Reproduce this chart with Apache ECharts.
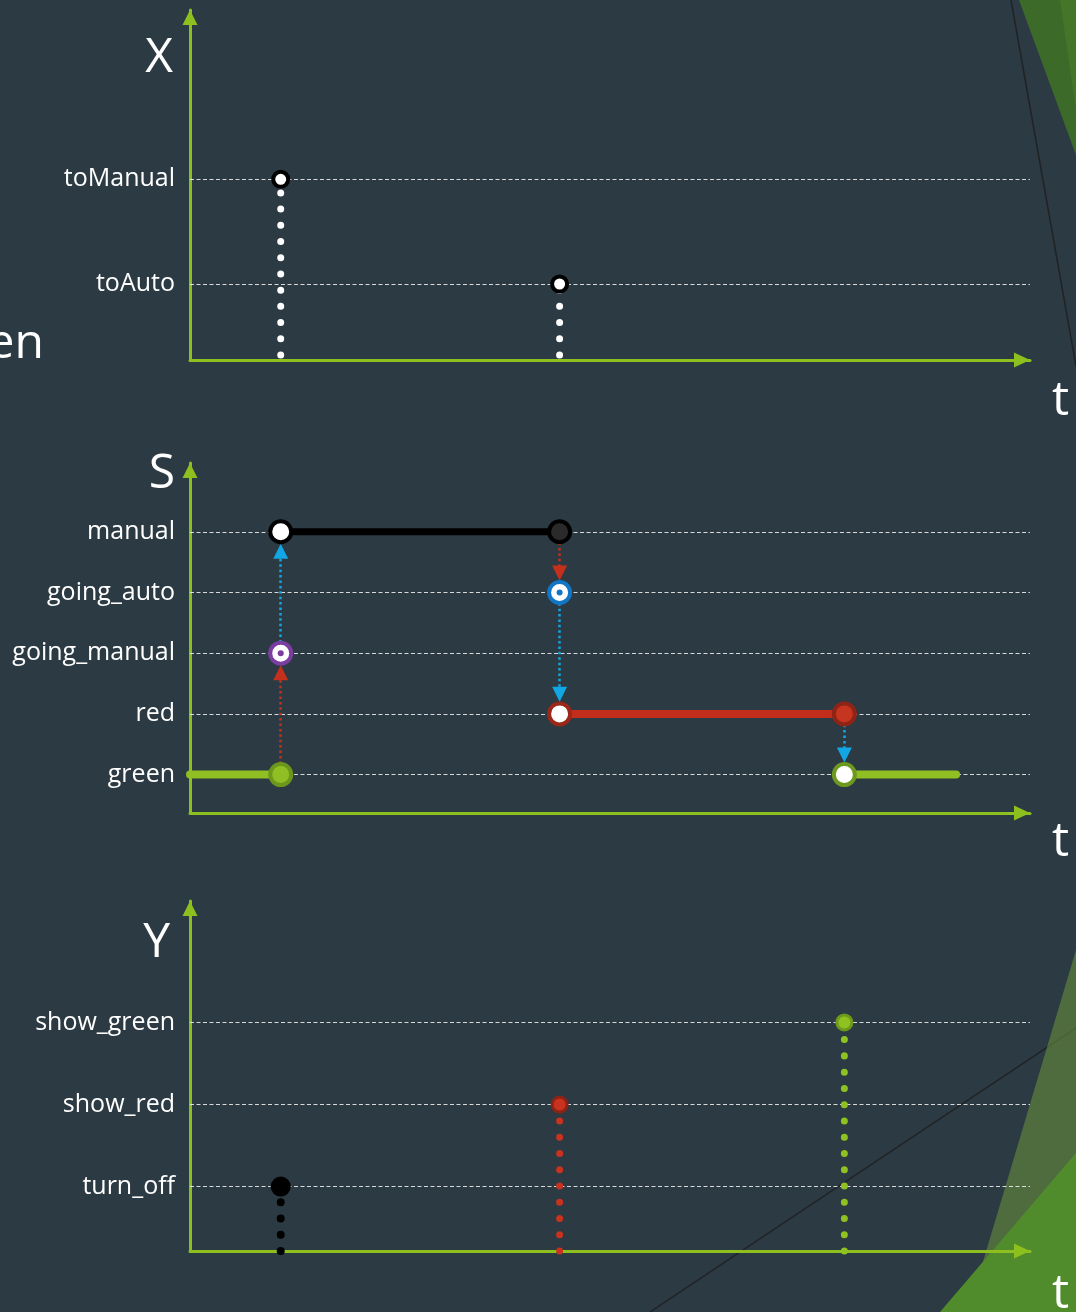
<!DOCTYPE html>
<html>
<head>
<meta charset="utf-8">
<title>X / S / Y timing</title>
<script src="https://cdn.jsdelivr.net/npm/echarts@6.0.0/dist/echarts.min.js"></script>
<style>
  html, body { margin: 0; padding: 0; background: #2c3a43; }
  #chart { width: 1076px; height: 1312px; }
</style>
</head>
<body>
<div id="chart"></div>
<script>
  // event times on the t axis (axis runs 0..100)
  const tEvents = [10.8, 44.0, 77.9]
  const tEnd = 91.2

  // X: commands
  const xLevels = ['toAuto', 'toManual']
  const xEvents = [[tEvents[0], 'toManual'], [tEvents[1], 'toAuto']]

  // S: states
  const sLevels = ['green', 'red', 'going_manual', 'going_auto', 'manual']
  const sSegments = [
    ['green', 0, tEvents[0]],
    ['manual', tEvents[0], tEvents[1]],
    ['red', tEvents[1], tEvents[2]],
    ['green', tEvents[2], tEnd]
  ]
  // [time, from, to, kind]
  const sTransitions = [
    [tEvents[0], 'green', 'going_manual', 'cmd'],
    [tEvents[0], 'going_manual', 'manual', 'auto'],
    [tEvents[1], 'manual', 'going_auto', 'cmd'],
    [tEvents[1], 'going_auto', 'red', 'auto'],
    [tEvents[2], 'red', 'green', 'auto']
  ]
  // [time, state, marker]
  const sPoints = [
    [tEvents[0], 'green', 'greenFill'],
    [tEvents[0], 'going_manual', 'purpleRing'],
    [tEvents[0], 'manual', 'blackOpen'],
    [tEvents[1], 'manual', 'blackFill'],
    [tEvents[1], 'going_auto', 'blueRing'],
    [tEvents[1], 'red', 'redOpen'],
    [tEvents[2], 'red', 'redFill'],
    [tEvents[2], 'green', 'greenOpen']
  ]

  // Y: outputs
  const yLevels = ['turn_off', 'show_red', 'show_green']
  const yEvents = [[tEvents[0], 'turn_off'], [tEvents[1], 'show_red'], [tEvents[2], 'show_green']]

  const LIME = '#8dc01f'
  const FONT = 'Open Sans'

  const stateColors = { green: '#8fbf22', manual: '#000000', red: '#c22e1b' }
  const stateWidths = { green: 8, manual: 7, red: 8 }
  const transColors = { cmd: '#c4301c', auto: '#12a6e4' }
  const markerStyles = {
    greenFill: { fill: '#8fbf22', border: '#6b981c' },
    purpleRing: { fill: '#ffffff', border: '#7b3d9f', dot: '#7b3d9f' },
    blackOpen: { fill: '#ffffff', border: '#000000' },
    blackFill: { fill: '#2a2a2a', border: '#000000' },
    blueRing: { fill: '#ffffff', border: '#1176c6', dot: '#1176c6' },
    redOpen: { fill: '#ffffff', border: '#9a2718' },
    redFill: { fill: '#c6351f', border: '#8f2416' },
    greenOpen: { fill: '#ffffff', border: '#6d9a1e' }
  }
  const yOutStyles = {
    turn_off: { fill: '#000000', border: '#000000', size: 20, bw: 0, drop: '#000000', dot: 8 },
    show_red: { fill: '#c8321e', border: '#8e2215', size: 15, bw: 3, drop: '#c8321e', dot: 7 },
    show_green: { fill: '#8fc122', border: '#6e9a1c', size: 15, bw: 3, drop: '#8fc122', dot: 7 }
  }

  const panels = [
    { name: 'X', levels: xLevels, top: 10, min: 0.274, max: 3.617, nameGap: -48, namePad: 17, tLine: 82, dotOffset: 11.2 },
    { name: 'S', levels: sLevels, top: 463, min: 0.367, max: 6.133, nameGap: -11, namePad: 15, tLine: 58, dotOffset: 0 },
    { name: 'Y', levels: yLevels, top: 901, min: 0.215, max: 4.48, nameGap: -42, namePad: 20, tLine: 86, dotOffset: 0 }
  ]

  function lv(levels, name) {
    return levels.indexOf(name) + 1
  }

  const chart = echarts.init(document.getElementById('chart'))

  const grid = panels.map(p => ({
    left: 190, width: 840, top: p.top, height: 350, outerBoundsMode: 'none'
  }))

  const xAxis = panels.map((p, i) => ({
    type: 'value', gridIndex: i, min: 0, max: 100,
    name: 't', nameLocation: 'end', nameGap: 22,
    nameTextStyle: { color: '#fff', fontSize: 48, fontFamily: FONT, align: 'left', verticalAlign: 'top', lineHeight: p.tLine },
    axisLine: { show: true, symbol: ['none', 'triangle'], symbolSize: [15, 16], symbolOffset: [0, -8], lineStyle: { color: LIME, width: 3 } },
    axisTick: { show: false }, axisLabel: { show: false }, splitLine: { show: false }
  }))

  const yAxis = panels.map((p, i) => ({
    type: 'value', gridIndex: i, min: p.min, max: p.max,
    name: p.name, nameLocation: 'end', nameGap: p.nameGap,
    nameTextStyle: { color: '#fff', fontSize: 48, fontFamily: FONT, align: 'right', verticalAlign: 'middle', padding: [0, p.namePad, 0, 0] },
    axisLine: { show: true, onZero: false, symbol: ['none', 'triangle'], symbolSize: [15, 15], symbolOffset: [0, -7.5], lineStyle: { color: LIME, width: 3 } },
    axisTick: { show: false }, axisLabel: { show: false }, splitLine: { show: false }
  }))

  const series = []

  // dashed level lines with their names
  panels.forEach((p, i) => {
    series.push({
      type: 'line', xAxisIndex: i, yAxisIndex: i, data: [], z: 1, silent: true,
      markLine: {
        z: 1,
        symbol: 'none', silent: true, animation: false,
        lineStyle: { color: 'rgba(235,235,235,0.9)', width: 1, type: [4, 2.5] },
        emphasis: { disabled: true },
        label: { position: 'start', distance: 15, formatter: '{b}', color: '#fff', fontSize: 25, fontFamily: FONT },
        data: p.levels.map((n, k) => ({ yAxis: k + 1, name: n }))
      }
    })
  })

  // X panel: drop lines (drawn upward from the axis) and markers
  xEvents.forEach(e => {
    series.push({
      type: 'line', xAxisIndex: 0, yAxisIndex: 0, clip: false, symbol: 'none', silent: true, z: 3,
      data: [[e[0], panels[0].min], [e[0], lv(xLevels, e[1])]],
      lineStyle: { color: '#fff', width: 7, type: [0.01, 16.2], dashOffset: panels[0].dotOffset, cap: 'round' }
    })
  })
  series.push({
    type: 'scatter', xAxisIndex: 0, yAxisIndex: 0, clip: false, z: 5, symbolSize: 15,
    itemStyle: { color: '#fff', borderColor: '#000', borderWidth: 4, opacity: 1 },
    data: xEvents.map(e => [e[0], lv(xLevels, e[1])])
  })

  // S panel: state segments
  sSegments.forEach(s => {
    series.push({
      type: 'line', xAxisIndex: 1, yAxisIndex: 1, clip: false, symbol: 'none', silent: true, z: 2,
      data: [[s[1], lv(sLevels, s[0])], [s[2], lv(sLevels, s[0])]],
      lineStyle: { color: stateColors[s[0]], width: stateWidths[s[0]], cap: 'round' }
    })
  })

  // S panel: transition arrows
  const arrowOff = 19.5 / 60.65
  series.push({
    type: 'line', xAxisIndex: 1, yAxisIndex: 1, data: [], z: 3, silent: true, clip: false,
    markLine: {
      z: 3,
      silent: true, animation: false, symbol: ['none', 'triangle'], symbolSize: 15,
      emphasis: { disabled: true },
      label: { show: false },
      data: sTransitions.map(tr => {
        const from = lv(sLevels, tr[1])
        const to = lv(sLevels, tr[2])
        const end = to > from ? to - arrowOff : to + arrowOff
        return [
          { coord: [tr[0], from], lineStyle: { color: transColors[tr[3]], width: 2.5, type: [2.5, 2.9] }, itemStyle: { color: transColors[tr[3]] } },
          { coord: [tr[0], end], itemStyle: { color: transColors[tr[3]] } }
        ]
      })
    }
  })

  // S panel: state markers
  series.push({
    type: 'scatter', xAxisIndex: 1, yAxisIndex: 1, clip: false, z: 5, symbolSize: 21,
    data: sPoints.map(pt => ({
      value: [pt[0], lv(sLevels, pt[1])],
      itemStyle: { color: markerStyles[pt[2]].fill, borderColor: markerStyles[pt[2]].border, borderWidth: 4, opacity: 1 }
    }))
  })
  series.push({
    type: 'scatter', xAxisIndex: 1, yAxisIndex: 1, clip: false, z: 6, symbolSize: 6,
    data: sPoints.filter(pt => markerStyles[pt[2]].dot).map(pt => ({
      value: [pt[0], lv(sLevels, pt[1])],
      itemStyle: { color: markerStyles[pt[2]].dot, opacity: 1 }
    }))
  })

  // Y panel: drop lines (upward from the axis) and markers
  yEvents.forEach(e => {
    const st = yOutStyles[e[1]]
    series.push({
      type: 'line', xAxisIndex: 2, yAxisIndex: 2, clip: false, symbol: 'none', silent: true, z: 3,
      data: [[e[0], panels[2].min], [e[0], lv(yLevels, e[1])]],
      lineStyle: { color: st.drop, width: st.dot, type: [0.01, 16.25], dashOffset: panels[2].dotOffset, cap: 'round' }
    })
  })
  series.push({
    type: 'scatter', xAxisIndex: 2, yAxisIndex: 2, clip: false, z: 5,
    data: yEvents.map(e => {
      const st = yOutStyles[e[1]]
      return {
        value: [e[0], lv(yLevels, e[1])],
        symbolSize: st.size,
        itemStyle: { color: st.fill, borderColor: st.border, borderWidth: st.bw, opacity: 1 }
      }
    })
  })

  chart.setOption({
    backgroundColor: '#2c3a43',
    animation: false,
    grid: grid,
    xAxis: xAxis,
    yAxis: yAxis,
    series: series,
    graphic: [
      // slide decoration
      { type: 'polygon', z: -10, silent: true, shape: { points: [[1019, 0], [1076, 0], [1076, 155]] }, style: { fill: '#3c6a28' } },
      { type: 'polygon', z: -10, silent: true, shape: { points: [[1060, 0], [1076, 0], [1076, 110]] }, style: { fill: '#447528' } },
      { type: 'line', z: -10, silent: true, shape: { x1: 1011, y1: 0, x2: 1076, y2: 366 }, style: { stroke: '#1f2326', lineWidth: 1.5 } },
      { type: 'line', z: -10, silent: true, shape: { x1: 650, y1: 1312, x2: 1076, y2: 1028 }, style: { stroke: '#1f2326', lineWidth: 1.5 } },
      { type: 'polygon', z: -9, silent: true, shape: { points: [[1076, 950], [968, 1312], [1076, 1312]] }, style: { fill: 'rgba(110,150,60,0.55)' } },
      { type: 'polygon', z: -8, silent: true, shape: { points: [[1076, 1153], [940, 1312], [1076, 1312]] }, style: { fill: '#518c2c' } },
      { type: 'text', z: -5, silent: true, style: { text: 'en', x: 44, y: 344, align: 'right', verticalAlign: 'middle', fontSize: 48, fontFamily: FONT, fill: '#fff' } }
    ]
  })
</script>
</body>
</html>
